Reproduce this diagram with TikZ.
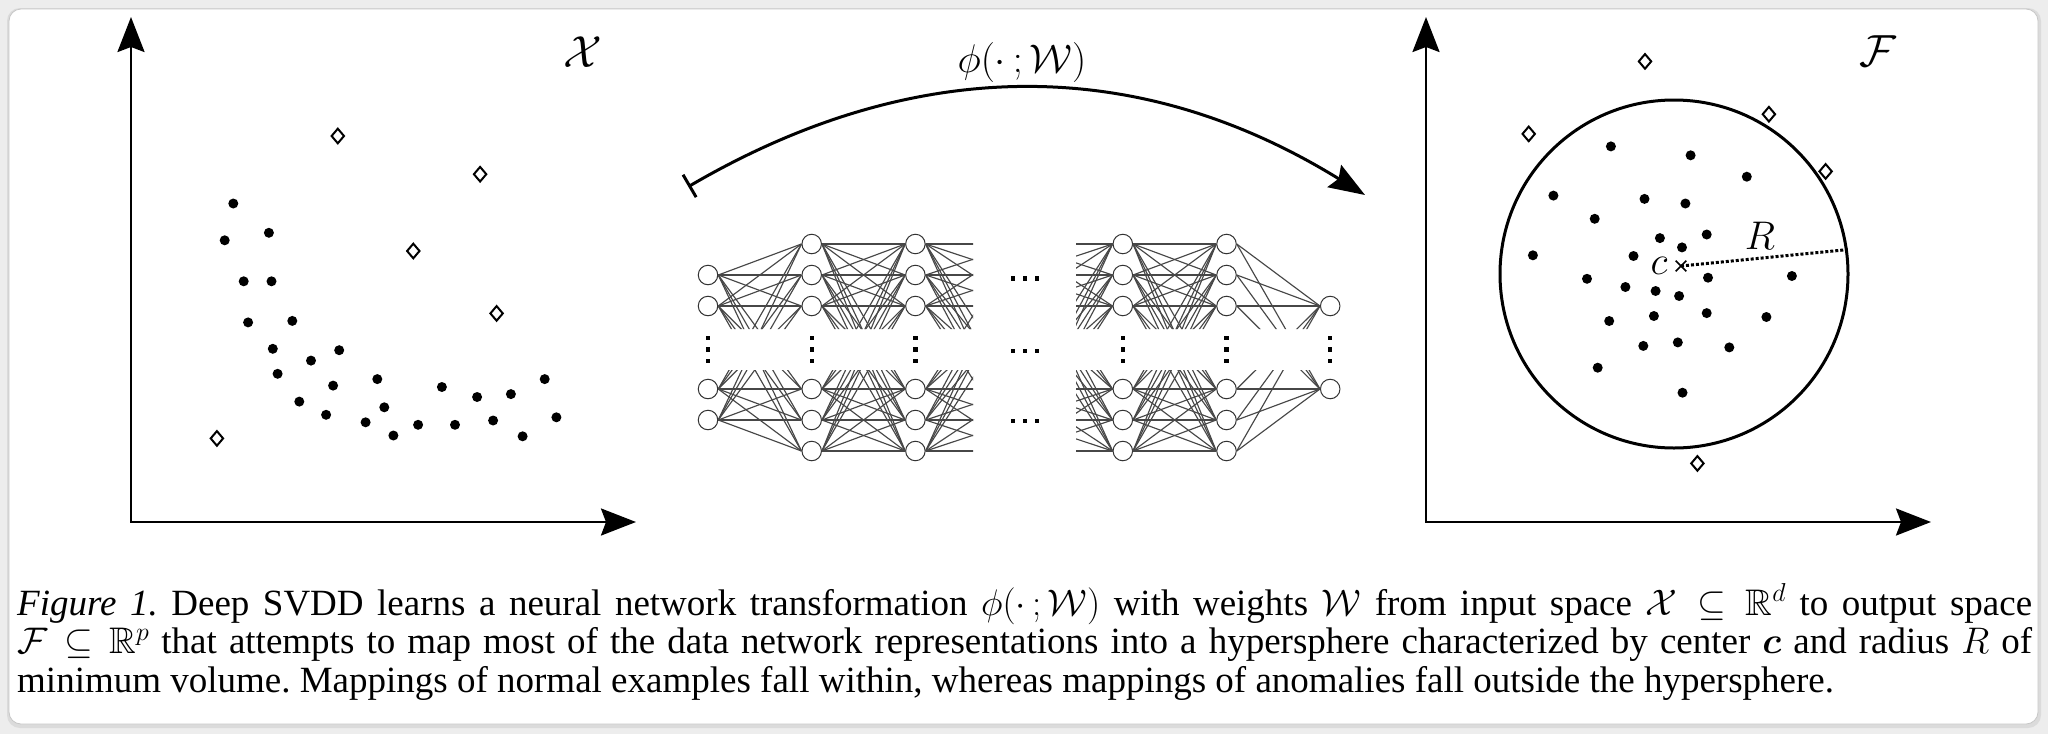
\RequirePackage{fix-cm}
\documentclass[tikz,border=0pt]{standalone}
\usepackage{fontspec}
\setmainfont{Liberation Serif}
\usepackage{amsmath,amssymb}
\usetikzlibrary{arrows.meta,shapes.misc}

\begin{document}
\begin{tikzpicture}
        [x=1pt,y=-1pt,
         axis/.style={line width=2.6pt,{Stealth[length=35pt,width=27pt,inset=5pt]}-{Stealth[length=35pt,width=27pt,inset=5pt]}},
         maparrow/.style={line width=3pt,{Bar[width=26pt]}-{Stealth[length=36pt,width=26pt,inset=5pt]}},
         normal/.style={fill=black},
         anomaly/.style={draw=black,fill=white,line width=2pt},
         neuron/.style={circle,draw=black!80,fill=white,line width=1pt,minimum size=19.5pt,inner sep=0pt},
         wire/.style={draw=black!72,line width=1.15pt},
         hsphere/.style={circle,draw,line width=3pt,minimum size=348pt,inner sep=0pt},
         bigmath/.style={inner sep=0pt,font=\fontsize{45}{50}\selectfont},
         midmath/.style={inner sep=0pt,font=\fontsize{40}{46}\selectfont},
         captext/.style={inner sep=0pt,text width=2015pt,align=justify,font=\fontsize{37}{38.5}\selectfont\frenchspacing}]
        \useasboundingbox (0,0) rectangle (2048,734);
        \fill[black!7] (0,0) rectangle (2048,734);
        \fill[black!14,rounded corners=13pt] (7,8) rectangle (2041,728);
        \draw[black!22,fill=white,rounded corners=12pt,line width=0.8pt] (9,9) rectangle (2038,724);

        \coordinate (xtop) at (131,17);
        \coordinate (xorig) at (131,522);
        \coordinate (xend) at (636,522);
        \coordinate (ftop) at (1426,17);
        \coordinate (forig) at (1426,522);
        \coordinate (fend) at (1931,522);
        \draw[axis] (xtop) -- (xorig) -- (xend);
        \draw[axis] (ftop) -- (forig) -- (fend);
        \node[bigmath] (xlab) at (583,52) {$\mathcal{X}$};
        \node[bigmath] (flab) at (1878,51) {$\mathcal{F}$};

        \foreach \px/\py in {233.3/203.5,224.7/240.3,268.9/232.8,243.7/281.3,271.5/281.3,248.1/322.4,
                292.3/320.9,272.8/348.8,339.2/350.2,277.6/373.8,311.0/360.6,333.1/385.6,377.3/379.1,
                299.3/401.6,326.1/414.8,384.3/407.3,365.6/422.3,393.4/435.5,418.1/424.8,441.9/387.0,
                455.0/424.8,477.1/397.0,493.1/420.5,510.9/394.1,522.6/436.3,544.7/379.1,556.4/417.3}
            \fill[normal] (\px,\py) circle (5pt);
        \foreach \px/\py in {337.8/136.0,480.1/174.2,413.3/251.0,496.6/313.4,216.9/438.4}
            \draw[anomaly] (\px,\py) +(0,-7.3) -- +(6.2,0) -- +(0,7.3) -- +(-6.2,0) -- cycle;

        \node[hsphere] (sph) at (1674,274) {};
        \foreach \px/\py in {1610.9/146.4,1690.6/155.3,1746.8/176.7,1553.4/195.6,1644.5/198.9,1685.4/203.5,
                1594.7/218.8,1659.9/238.1,1706.7/234.5,1682.0/247.4,1532.9/255.3,1633.5/256.0,1587.0/278.8,
                1625.4/287.0,1655.6/291.0,1679.1/296.0,1708.0/277.7,1791.9/276.0,1609.2/321.0,1653.9/316.0,
                1706.7/313.1,1766.4/317.0,1643.3/345.9,1677.8/342.4,1729.3/347.4,1597.7/367.7,1682.5/392.7}
            \fill[normal] (\px,\py) circle (5pt);
        \foreach \px/\py in {1645/61.4,1768.9/114.2,1528.7/133.9,1825.6/171.4,1697.4/463.4}
            \draw[anomaly] (\px,\py) +(0,-7.3) -- +(6.2,0) -- +(0,7.3) -- +(-6.2,0) -- cycle;
        \node[cross out,draw,minimum size=9pt,inner sep=0pt,line width=1.6pt] (ctr) at (1681,266) {};
        \draw[dotted,line width=3pt] (ctr.center) -- (sph.8);
        \node[midmath] (clab) at (1659,266) {$c$};
        \node[midmath] (rlab) at (1760,236) {$R$};

        \coordinate (mapfrom) at (688.3,186.7);
        \coordinate (mapto) at (1365,195);
        \draw[maparrow] (mapfrom) to[bend left=31] (mapto);
        \node[midmath] (philab) at (1022,62) {$\phi(\cdot\,;\mathcal{W})$};

        \foreach \ly [count=\k] in {275,306,389,420}
            \node[neuron] (in-\k) at (708,\ly) {};
        \foreach \lx/\ln in {811.7/a,915.4/b,1122.8/c,1226.5/d}
            \foreach \ly [count=\k] in {244,275,306,389,420,451}
                \node[neuron] (\ln-\k) at (\lx,\ly) {};
        \foreach \ly [count=\k] in {244,275,306,389,420,451}
            \coordinate (h-\k) at (1019.1,\ly);
        \foreach \ly [count=\k] in {306,389}
            \node[neuron] (out-\k) at (1330.2,\ly) {};
        \begin{scope}
            \clip (690,225) rectangle (973,329) (690,370) rectangle (973,470)
                  (1076,225) rectangle (1350,329) (1076,370) rectangle (1350,470);
            \foreach \i in {1,...,4}
                \foreach \j in {1,...,6}
                    \draw[wire] (in-\i.east) -- (a-\j.west);
            \foreach \i in {1,...,6}
                \foreach \j in {1,...,6}
                {
                    \draw[wire] (a-\i.east) -- (b-\j.west);
                    \draw[wire] (b-\i.east) -- (h-\j);
                    \draw[wire] (h-\i) -- (c-\j.west);
                    \draw[wire] (c-\i.east) -- (d-\j.west);
                }
            \foreach \i in {1,...,6}
                \foreach \j in {1,2}
                    \draw[wire] (d-\i.east) -- (out-\j.west);
        \end{scope}
        \foreach \lx in {708,811.7,915.4,1122.8,1226.5,1330.2}
            \foreach \ly in {338,349.5,361}
                \fill (\lx-2.2,\ly-2.2) rectangle ++(4.4,4.4);
        \foreach \lx in {1013,1025,1037}
            \foreach \ly in {278.3,350.7,420.7}
                \fill (\lx-2.2,\ly-2.2) rectangle ++(4.4,4.4);

        \node[captext,anchor=base west] (cap) at (17,615)
            {\textit{Figure 1.} Deep SVDD learns a neural network transformation $\phi(\cdot\,;\mathcal{W})$ with weights $\mathcal{W}$ from input space $\mathcal{X}\subseteq\mathbb{R}^d$ to output space\linebreak
            $\mathcal{F}\subseteq\mathbb{R}^p$ that attempts to map most of the data network representations into a hypersphere characterized by center $\boldsymbol{c}$ and radius $R$ of\linebreak
            minimum volume. Mappings of normal examples fall within, whereas mappings of anomalies fall outside the hypersphere.};
    \end{tikzpicture}
\end{document}
